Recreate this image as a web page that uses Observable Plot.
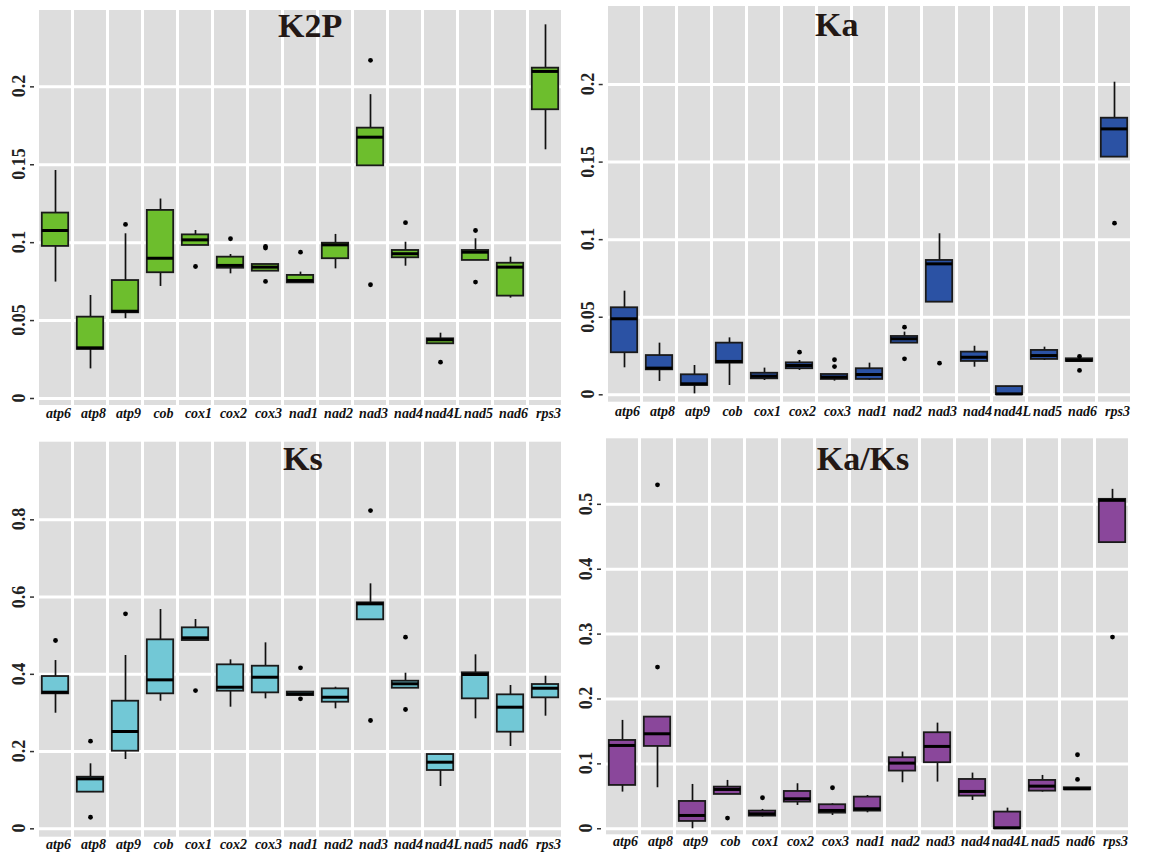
<!DOCTYPE html>
<html>
<head>
<meta charset="utf-8">
<script src="https://cdn.jsdelivr.net/npm/d3@7"></script>
<script src="https://cdn.jsdelivr.net/npm/@observablehq/plot@0.6"></script>
<style>
  html, body { margin: 0; padding: 0; background: #fff; }
  #wrap { position: relative; width: 1151px; height: 858px; overflow: hidden; }
  .panel { position: absolute; }
  .panel text { font-family: "Liberation Serif", "Times New Roman", serif; }
  .title { position: absolute; font-family: "Liberation Serif", serif; font-weight: bold; font-size: 34px; line-height: 34px; color: #231815; white-space: nowrap; }
  .ylab { position: absolute; font-family: "Liberation Serif", serif; font-weight: bold; font-size: 18px; line-height: 18px; color: #222; white-space: nowrap; transform: translate(-50%, -50%) rotate(-90deg); }
</style>
</head>
<body>
<div id="wrap"></div>
<script>
const genes = ["atp6","atp8","atp9","cob","cox1","cox2","cox3","nad1","nad2","nad3","nad4","nad4L","nad5","nad6","rps3"];

// K2P
const k2pLow  = [0.0747,0.019,0.0512,0.0719,0.0982,0.080,0.0817,0.0742,0.0832,0.1493,0.0849,0.0351,0.0886,0.0644,0.1596];
const k2pQ1   = [0.0976,0.0315,0.055,0.0807,0.0982,0.0836,0.0817,0.0742,0.0897,0.1493,0.0903,0.0351,0.0886,0.0657,0.1853];
const k2pMed  = [0.1078,0.0325,0.056,0.090,0.1018,0.0854,0.0843,0.0757,0.0986,0.1677,0.0929,0.0377,0.0939,0.0843,0.2099];
const k2pQ3   = [0.119,0.0522,0.0757,0.1207,0.105,0.0907,0.086,0.079,0.0997,0.1735,0.095,0.0383,0.095,0.0868,0.212];
const k2pHigh = [0.1463,0.0661,0.1057,0.128,0.1078,0.0924,0.086,0.0811,0.1053,0.195,0.1003,0.0419,0.1025,0.0907,0.2398];
const k2pOut  = [[],[],[0.1117],[],[0.0847],[0.1025],[0.0976,0.0965,0.0751],[0.0939],[],[0.217,0.073],[0.1128],[0.0233],[0.1078,0.0747],[],[]];

// Ka
const kaLow  = [0.0174,0.0086,0.0006,0.006,0.0092,0.0157,0.0088,0.0092,0.0333,0.0597,0.0178,0,0.0221,0.0215,0.1532];
const kaQ1   = [0.0271,0.0161,0.006,0.0204,0.0103,0.0168,0.0099,0.0099,0.0333,0.0597,0.0215,0,0.0228,0.0215,0.1532];
const kaMed  = [0.049,0.0172,0.0071,0.0215,0.012,0.0189,0.0114,0.0131,0.0361,0.0844,0.0242,0.0006,0.0253,0.0222,0.1714];
const kaQ3   = [0.0561,0.0253,0.0129,0.0333,0.0139,0.0206,0.0131,0.0168,0.0376,0.0866,0.0275,0.0053,0.0286,0.0232,0.1783];
const kaHigh = [0.0668,0.0333,0.0189,0.0367,0.0172,0.0221,0.0131,0.0204,0.0404,0.1038,0.0313,0.0053,0.0307,0.0232,0.2015];
const kaOut  = [[],[],[],[],[],[0.0275],[0.0226,0.0182],[],[0.0436,0.0232],[0.0204],[],[],[],[0.0247,0.0157],[0.1106]];

// Ks
const ksLow  = [0.2993,0.0949,0.1794,0.3304,0.4875,0.3149,0.3365,0.345,0.3107,0.5411,0.364,0.1095,0.2848,0.2131,0.2916];
const ksQ1   = [0.3495,0.0949,0.2009,0.3495,0.4875,0.3563,0.352,0.345,0.3278,0.5411,0.364,0.151,0.3365,0.2502,0.3391];
const ksMed  = [0.3537,0.1294,0.2519,0.3857,0.4945,0.3666,0.3925,0.3495,0.3407,0.5825,0.3754,0.1725,0.3995,0.3149,0.364];
const ksQ3   = [0.3943,0.1336,0.3304,0.4893,0.5204,0.4246,0.421,0.354,0.3624,0.5851,0.3822,0.1924,0.4039,0.3469,0.3736];
const ksHigh = [0.4357,0.1683,0.4487,0.5678,0.5419,0.4375,0.4815,0.354,0.3666,0.6343,0.4029,0.1924,0.4505,0.371,0.3951];
const ksOut  = [[0.4876],[0.2268,0.030],[0.5566],[],[0.358],[],[],[0.4168,0.3365],[],[0.824,0.2804],[0.4961,0.3089],[],[],[],[]];

// Ka/Ks
const rLow  = [0.0565,0.0632,0,0.0529,0.018,0.0359,0.0205,0.0246,0.0709,0.0719,0.0436,0,0.0565,0.0601,0.441];
const rQ1   = [0.0668,0.1269,0.0113,0.0529,0.0195,0.0411,0.0241,0.0272,0.0889,0.1018,0.0503,0,0.058,0.0601,0.441];
const rMed  = [0.1284,0.1464,0.0205,0.0606,0.0231,0.0462,0.0282,0.0308,0.1012,0.1269,0.0575,0.0015,0.0657,0.0617,0.5062];
const rQ3   = [0.1361,0.1721,0.0421,0.0642,0.0272,0.0575,0.037,0.0488,0.1095,0.148,0.076,0.0257,0.0745,0.0632,0.5077];
const rHigh = [0.167,0.1721,0.0683,0.0745,0.0298,0.0694,0.0385,0.0513,0.1182,0.1628,0.0858,0.0318,0.0822,0.0632,0.5231];
const rOut  = [[],[0.530,0.2492],[],[0.0164],[0.0478],[],[0.0632],[],[],[],[],[],[],[0.1141,0.076],[0.2954]];

const titles = ["K2P","Ka","Ks","Ka/Ks"];
const ticksA = [0,0.05,0.1,0.15,0.2];
const ticksKs = [0,0.2,0.4,0.6,0.8];
const ticksR = [0,0.1,0.2,0.3,0.4,0.5];

const FONT = "'Liberation Serif', 'Times New Roman', serif";
const wrap = document.getElementById("wrap");

function panel(cfg) {
  const rows = genes.map((g, i) => ({gene: g, low: cfg.low[i], q1: cfg.q1[i], med: cfg.med[i], q3: cfg.q3[i], high: cfg.high[i]}));
  const outs = genes.flatMap((g, i) => cfg.out[i].map(v => ({gene: g, v})));
  const [y0, y1] = cfg.domain;
  const svg = Plot.plot({
    width: cfg.width, height: cfg.height,
    marginLeft: cfg.mL, marginRight: cfg.mR, marginTop: cfg.mT, marginBottom: cfg.mB,
    style: `font-family: ${FONT}; background: white; overflow: visible;`,
    x: {type: "band", domain: genes, paddingInner: 0.1, paddingOuter: 0},
    y: {domain: cfg.domain},
    marks: [
      Plot.barY(genes, {x: d => d, y1: () => y0, y2: () => y1, fill: "#dddddd"}),
      Plot.gridY(cfg.ticks, {stroke: "#ffffff", strokeOpacity: 1, strokeWidth: 3}),
      Plot.axisY(cfg.ticks, {tickSize: 4, tickFormat: () => "", color: "#333", strokeWidth: 1.5, label: null}),
      Plot.axisX({tickSize: 0, tickPadding: cfg.xPad, fontSize: 14, fontWeight: "bold", fontStyle: "italic", color: "#111", dx: 3, label: null}),
      Plot.ruleX(rows, {x: "gene", y1: "low", y2: "q1", stroke: "#111", strokeWidth: 1.7}),
      Plot.ruleX(rows, {x: "gene", y1: "q3", y2: "high", stroke: "#111", strokeWidth: 1.7}),
      Plot.barY(rows, {x: "gene", y1: "q1", y2: "q3", fill: cfg.color, stroke: "#1a1a1a", strokeWidth: 1.8, insetLeft: 2.8, insetRight: 2.8}),
      Plot.tickY(rows, {x: "gene", y: "med", stroke: "#000", strokeWidth: 3, insetLeft: 2.8, insetRight: 2.8}),
      Plot.dot(outs, {x: "gene", y: "v", r: 2.4, fill: "#000", stroke: "none"})
    ]
  });
  svg.classList.add("panel");
  svg.style.position = "absolute";
  svg.style.left = cfg.left + "px";
  svg.style.top = cfg.top + "px";
  wrap.appendChild(svg);

  // rotated y tick labels, positioned through the plot's own y scale
  const yScale = svg.scale("y");
  cfg.ticks.forEach(v => {
    const d = document.createElement("div");
    d.className = "ylab";
    d.textContent = String(v);
    d.style.left = (cfg.left + cfg.mL - 15) + "px";
    d.style.top = (cfg.top + yScale.apply(v)) + "px";
    wrap.appendChild(d);
  });

  const t = document.createElement("div");
  t.className = "title";
  t.textContent = cfg.title;
  t.style.left = cfg.tx + "px";
  t.style.top = (cfg.ty - 28.5) + "px";
  wrap.appendChild(t);
}

panel({title: titles[0], left: 0, top: 0, width: 575, height: 430, mL: 34, mR: 9, mT: 10, mB: 25,
  domain: [-0.0045, 0.249], ticks: ticksA, color: "#6dbe2d", xPad: 3, tx: 278, ty: 37,
  low: k2pLow, q1: k2pQ1, med: k2pMed, q3: k2pQ3, high: k2pHigh, out: k2pOut});
panel({title: titles[1], left: 575, top: 0, width: 576, height: 430, mL: 27.7, mR: 17, mT: 6, mB: 28.3,
  domain: [-0.00477, 0.2503], ticks: ticksA, color: "#2b52a4", xPad: 4, tx: 815, ty: 36,
  low: kaLow, q1: kaQ1, med: kaMed, q3: kaQ3, high: kaHigh, out: kaOut});
panel({title: titles[2], left: 0, top: 430, width: 575, height: 428, mL: 34, mR: 9, mT: 11.7, mB: 21.3,
  domain: [-0.0217, 1.001], ticks: ticksKs, color: "#72c8d6", xPad: 1.5, tx: 283, ty: 470,
  low: ksLow, q1: ksQ1, med: ksMed, q3: ksQ3, high: ksHigh, out: ksOut});
panel({title: titles[3], left: 575, top: 430, width: 576, height: 428, mL: 26, mR: 17.7, mT: 8.3, mB: 23.7,
  domain: [-0.0093, 0.601], ticks: ticksR, color: "#8a479b", xPad: 1.5, tx: 816.7, ty: 470,
  low: rLow, q1: rQ1, med: rMed, q3: rQ3, high: rHigh, out: rOut});
</script>
</body>
</html>
